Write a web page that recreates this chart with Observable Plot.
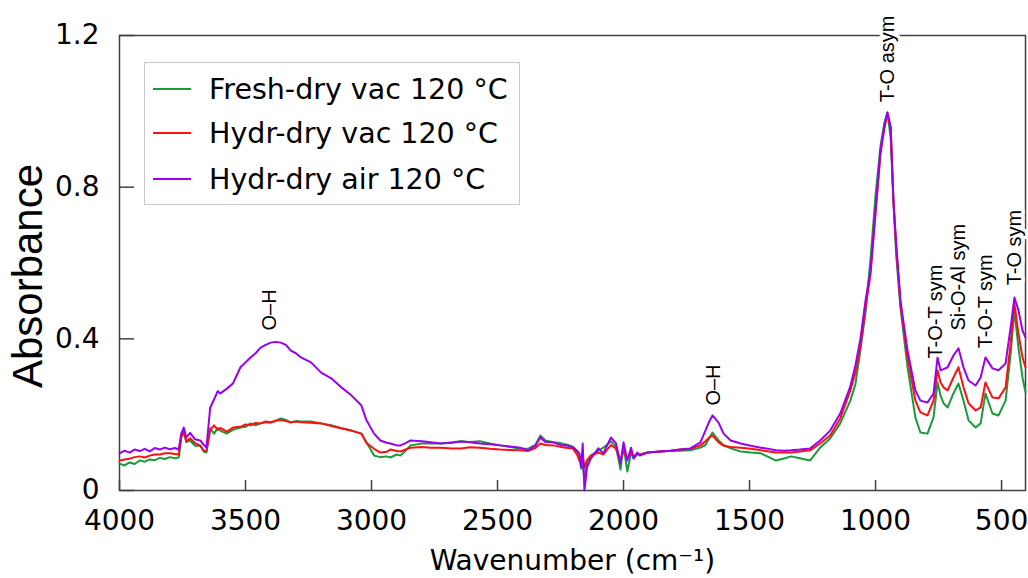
<!DOCTYPE html>
<html><head><meta charset="utf-8">
<script src="https://cdn.jsdelivr.net/npm/d3@7"></script>
<script src="https://cdn.jsdelivr.net/npm/@observablehq/plot@0.6"></script>
<style>
body{margin:0;background:#fff;}
#wrap{position:relative;width:1028px;height:578px;overflow:hidden;}
#legend{position:absolute;left:144px;top:62px;width:376px;height:143px;border:1px solid #c8c8c8;background:#fff;box-sizing:border-box;font-family:"DejaVu Sans";font-size:28.5px;color:#000;}
#legend .row{position:absolute;left:0;height:40px;display:flex;align-items:center;white-space:nowrap;}
#legend svg{margin-left:8px;margin-right:18px;}
</style>
</head><body><div id="wrap"></div>
<script>
const wavenumbers = [4000,3980,3960,3940,3920,3900,3880,3860,3840,3820,
 3800,3780,3765,3755,3745,3735,3720,3700,3680,3665,
 3655,3640,3625,3610,3600,3575,3550,3520,3500,3480,
 3460,3440,3420,3400,3380,3360,3340,3320,3300,3280,
 3240,3200,3160,3120,3080,3040,3020,2990,2965,2940,
 2925,2900,2885,2865,2845,2800,2765,2725,2680,2645,
 2610,2570,2530,2490,2450,2410,2380,2350,2330,2310,
 2278,2250,2220,2200,2185,2175,2168,2162,2155,2145,
 2130,2100,2080,2050,2030,2012,2000,1985,1970,1960,
 1945,1935,1905,1855,1815,1775,1735,1695,1675,1660,
 1647,1623,1603,1575,1535,1495,1455,1395,1360,1335,
 1300,1260,1220,1180,1140,1100,1080,1060,1040,1020,
 1000,980,965,953,940,929,918,901,873,842,
 822,794,770,754,742,730,714,691,671,651,
 631,603,583,564,536,512,484,464,449,433,
 417,405];

const freshVac = [.071,.066,.074,.070,.079,.076,.082,.080,.086,.083,
 .088,.085,.087,.140,.158,.128,.132,.118,.119,.102,
 .100,.164,.150,.165,.158,.150,.160,.166,.168,.177,
 .172,.177,.180,.179,.184,.190,.186,.179,.183,.182,
 .182,.177,.172,.164,.158,.150,.127,.092,.088,.090,
 .087,.095,.092,.105,.119,.124,.124,.124,.127,.130,
 .128,.130,.124,.119,.115,.111,.110,.120,.145,.132,
 .127,.125,.120,.115,.105,.092,.058,.070,.026,.070,
 .092,.105,.113,.130,.115,.055,.120,.050,.100,.085,
 .095,.095,.100,.103,.104,.105,.106,.113,.120,.138,
 .153,.132,.120,.111,.103,.100,.098,.079,.085,.090,
 .085,.079,.113,.137,.177,.237,.280,.370,.470,.610,
 .780,.910,.970,.997,.930,.765,.620,.480,.325,.193,
 .153,.150,.193,.285,.250,.230,.219,.256,.282,.237,
 .185,.166,.177,.256,.203,.198,.237,.361,.475,.377,
 .298,.259];

const hydrVac = [.079,.082,.084,.088,.090,.087,.092,.095,.095,.098,
 .098,.096,.095,.140,.155,.130,.138,.125,.118,.105,
 .104,.160,.172,.160,.165,.155,.166,.168,.174,.172,
 .178,.177,.182,.180,.184,.186,.183,.180,.182,.180,
 .179,.177,.170,.164,.158,.150,.125,.110,.100,.102,
 .108,.104,.103,.108,.113,.115,.113,.113,.111,.111,
 .114,.113,.110,.108,.107,.106,.104,.112,.124,.120,
 .119,.115,.112,.110,.095,.079,.070,.090,.060,.080,
 .092,.100,.095,.120,.110,.080,.105,.085,.100,.090,
 .097,.095,.100,.103,.105,.108,.110,.119,.130,.140,
 .145,.127,.118,.115,.113,.110,.106,.100,.100,.100,
 .103,.106,.124,.145,.190,.264,.310,.380,.480,.570,
 .730,.890,.955,.995,.955,.760,.640,.490,.351,.237,
 .206,.198,.237,.317,.285,.272,.264,.298,.325,.272,
 .230,.211,.219,.285,.245,.243,.272,.388,.493,.414,
 .351,.325];

const hydrAir = [.098,.105,.100,.108,.104,.110,.103,.112,.108,.113,
 .109,.112,.108,.150,.166,.140,.152,.135,.132,.120,
 .113,.219,.240,.262,.256,.268,.282,.325,.338,.351,
 .362,.377,.384,.390,.392,.390,.384,.369,.362,.351,
 .338,.311,.296,.272,.251,.224,.185,.150,.132,.126,
 .124,.119,.119,.125,.132,.130,.127,.124,.126,.129,
 .127,.124,.122,.119,.116,.113,.106,.118,.140,.128,
 .127,.120,.118,.113,.105,.098,.061,.124,.000,.061,
 .084,.111,.098,.140,.124,.071,.127,.079,.113,.084,
 .100,.092,.100,.103,.105,.108,.111,.127,.158,.182,
 .198,.179,.150,.132,.124,.118,.113,.106,.105,.106,
 .108,.111,.132,.158,.203,.275,.330,.400,.500,.580,
 .740,.900,.960,.997,.960,.765,.650,.500,.369,.264,
 .237,.232,.256,.351,.317,.320,.325,.356,.375,.325,
 .290,.277,.298,.351,.322,.317,.335,.430,.509,.475,
 .422,.404];

const seriesNames = ["Fresh-dry vac 120 °C", "Hydr-dry vac 120 °C", "Hydr-dry air 120 °C"];
const seriesColors = ["#1a9a3c", "#ff1010", "#9a00ee"];
const xTicks = [4000, 3500, 3000, 2500, 2000, 1500, 1000, 500];
const yTicks = [0, 0.4, 0.8, 1.2];
const xTitle = "Wavenumber (cm⁻¹)";
const yTitle = "Absorbance";
const peakLabels = ["O–H", "O–H", "T-O asym", "T-O-T sym", "Si-O-Al sym", "T-O-T sym", "T-O sym"];
const peakWavenumbers = [3405, 1643, 953, 762, 671, 564, 449];
const peakHeights = [0.422, 0.224, 1.024, 0.348, 0.422, 0.375, 0.541];

const seriesValues = [freshVac, hydrVac, hydrAir];
const data = [];
seriesNames.forEach((name, i) => {
  wavenumbers.forEach((w, j) => data.push({series: name, w, a: seriesValues[i][j]}));
});

const chart = Plot.plot({
  width: 1028, height: 578,
  marginLeft: 119, marginRight: 3, marginTop: 35, marginBottom: 88,
  style: {fontFamily: "DejaVu Sans", fontSize: "28px", color: "#000", background: "#fff"},
  x: {domain: [4000, 405]},
  y: {domain: [0, 1.2]},
  color: {domain: seriesNames, range: seriesColors},
  marks: [
    Plot.frame({stroke: "#404040", strokeWidth: 1.5}),
    Plot.axisX({ticks: xTicks, tickSize: 10, dy: -10, tickFormat: () => "", label: null, stroke: "#404040", strokeWidth: 1.5}),
    Plot.axisX({ticks: xTicks, tickSize: 0, tickPadding: 20, tickFormat: d => String(d), fontSize: 28,
      label: xTitle, labelAnchor: "center", labelArrow: "none", labelOffset: 79}),
    Plot.axisY({ticks: yTicks, tickSize: 15, dx: 15, tickFormat: () => "", label: null, stroke: "#404040", strokeWidth: 1.5}),
    Plot.axisY({ticks: yTicks, tickSize: 0, tickPadding: 20, tickFormat: d => d === 0 ? "0" : d.toFixed(1), fontSize: 28, label: null}),
    Plot.text([yTitle], {frameAnchor: "left", text: d => d, rotate: -90, lineAnchor: "top", textAnchor: "middle",
      dx: -107, dy: 13, fontFamily: "Liberation Sans", fontSize: 42, fill: "#000"}),
    Plot.line(data, {x: "w", y: "a", z: "series", stroke: "series", strokeWidth: 2}),
    Plot.text(peakLabels, {
      x: (d, i) => peakWavenumbers[i], y: (d, i) => peakHeights[i], text: d => d,
      rotate: -90, textAnchor: "start", fontFamily: "Liberation Sans", fontSize: 20,
      fill: "#000", stroke: "#fff", strokeWidth: 7, paintOrder: "stroke"
    })
  ]
});

const wrap = document.getElementById("wrap");
wrap.appendChild(chart);

const legend = document.createElement("div");
legend.id = "legend";
const rowCenters = [26, 70, 116];
seriesNames.forEach((name, i) => {
  const row = document.createElement("div");
  row.className = "row";
  row.style.top = (rowCenters[i] - 20) + "px";
  row.innerHTML = `<svg width="38" height="4"><line x1="0" y1="2" x2="38" y2="2" stroke="${seriesColors[i]}" stroke-width="2"/></svg><span>${name}</span>`;
  legend.appendChild(row);
});
wrap.appendChild(legend);
</script>
</body></html>
